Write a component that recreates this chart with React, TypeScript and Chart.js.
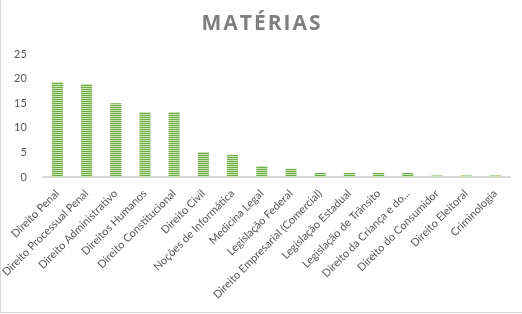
import React, { useEffect, useRef } from "react";
import { Chart, registerables } from "chart.js";

Chart.register(...registerables);

const TITLE = "MATÉRIAS";
const categories = [
  "Direito Penal",
  "Direito Processual Penal",
  "Direito Administrativo",
  "Direitos Humanos",
  "Direito Constitucional",
  "Direito Civil",
  "Noções de Informática",
  "Medicina Legal",
  "Legislação Federal",
  "Direito Empresarial (Comercial)",
  "Legislação Estadual",
  "Legislação de Trânsito",
  "Direito da Criança e do...",
  "Direito do Consumidor",
  "Direito Eleitoral",
  "Criminologia",
];
const values = [19.3, 18.9, 15.0, 13.2, 13.2, 5.1, 4.5, 2.2, 1.7, 0.8, 0.8, 0.8, 0.8, 0.3, 0.3, 0.3];
const yTicks = [0, 5, 10, 15, 20, 25];

function makePattern(): CanvasPattern | string {
  const c = document.createElement("canvas");
  c.width = 4;
  c.height = 2;
  const x = c.getContext("2d");
  if (!x) return "#8fc06a";
  x.fillStyle = "#c9e3b5";
  x.fillRect(0, 0, 4, 1);
  x.fillStyle = "#70ad47";
  x.fillRect(0, 1, 4, 1);
  const p = x.createPattern(c, "repeat");
  return p || "#8fc06a";
}

const titlePlugin = {
  id: "customTitle",
  afterDraw(chart: any) {
    const ctx = chart.ctx as CanvasRenderingContext2D;
    ctx.save();
    (ctx as any).letterSpacing = "2px";
    ctx.font = "bold 21px 'Open Sans'";
    ctx.fillStyle = "#7f7f7f";
    ctx.textAlign = "center";
    ctx.textBaseline = "middle";
    ctx.fillText(TITLE, 261, 24);
    ctx.restore();
  },
};

export default function App() {
  const ref = useRef<HTMLCanvasElement>(null);
  useEffect(() => {
    if (!ref.current) return;
    const chart = new Chart(ref.current, {
      type: "bar",
      data: {
        labels: categories,
        datasets: [
          {
            data: values,
            backgroundColor: makePattern() as any,
            borderColor: "#70ad47",
            borderWidth: 0,
            categoryPercentage: 1,
            barPercentage: 0.38,
          },
        ],
      },
      options: {
        animation: false,
        responsive: false,
        maintainAspectRatio: false,
        layout: { padding: { top: 54, left: 5, right: 12, bottom: 12 } },
        plugins: {
          legend: { display: false },
          title: { display: false },
          tooltip: { enabled: false },
        },
        scales: {
          x: {
            grid: { display: false },
            border: { display: true, color: "#d9d9d9", width: 2 },
            ticks: {
              autoSkip: false,
              maxRotation: 45,
              minRotation: 45,
              color: "#595959",
              font: { family: "Lato", size: 11 },
              padding: 2,
            },
          },
          y: {
            min: 0,
            max: 25,
            afterBuildTicks: (axis: any) => {
              axis.ticks = yTicks.map((v) => ({ value: v }));
            },
            grid: { display: false },
            border: { display: false },
            ticks: {
              color: "#595959",
              font: { family: "Lato", size: 11 },
              padding: 8,
            },
          },
        },
      },
      plugins: [titlePlugin],
    });
    return () => chart.destroy();
  }, []);
  return (
    <div
      style={{
        position: "absolute",
        left: 0,
        top: 0,
        width: 521,
        height: 312,
        borderLeft: "1px solid #d9d9d9",
        borderBottom: "1px solid #d9d9d9",
        background: "#fff",
      }}
    >
      <canvas ref={ref} width={521} height={312} style={{ display: "block" }} />
    </div>
  );
}
